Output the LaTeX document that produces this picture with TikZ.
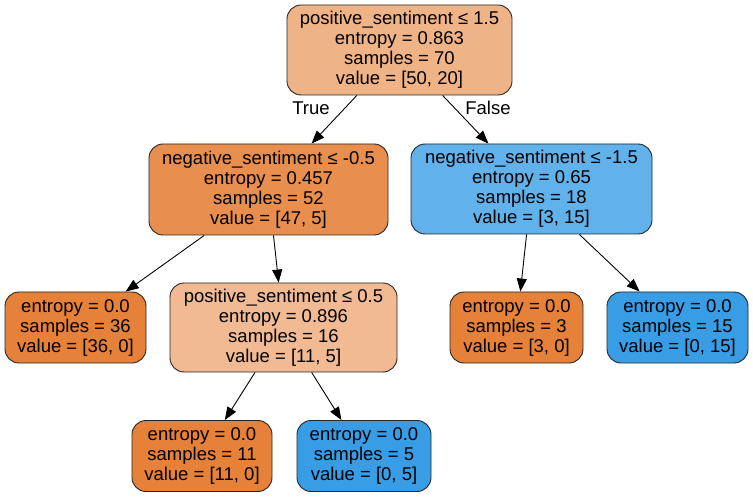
\documentclass[tikz,border=0pt]{standalone}
\usepackage{fontspec}
\setmainfont{Liberation Sans}
\usetikzlibrary{arrows.meta}

% Colores de las clases
\definecolor{raiz}{RGB}{239,179,136}
\definecolor{naranja}{RGB}{232,142,78}
\definecolor{naranjaclaro}{RGB}{241,186,147}
\definecolor{azulclaro}{RGB}{97,177,234}
\definecolor{hojanaranja}{RGB}{229,129,57}
\definecolor{hojaazul}{RGB}{57,157,229}

\begin{document}
\begin{tikzpicture}[x=1pt,y=-1pt,
	nodo/.style={draw=black!85, line width=0.9pt, rounded corners=14pt, align=center,
		font=\fontsize{18.5}{20}\selectfont, inner sep=0pt},
	hoja/.style={nodo, minimum height=71pt},
	flecha/.style={line width=0.9pt, -{Triangle[length=13pt,width=10pt]}}]
			
			\useasboundingbox (0,0) rectangle (753,497);
			
			% Nodo raiz
			\node[nodo, fill=raiz, minimum width=225pt, minimum height=90pt] (raiz) at (399.5,50)
				{positive\_sentiment ≤ 1.5\\entropy = 0.863\\samples = 70\\value = [50, 20]};
			
			% Segundo nivel
			\node[nodo, fill=naranja, minimum width=239pt, minimum height=91pt] (izq) at (268.5,189.5)
				{negative\_sentiment ≤ -0.5\\entropy = 0.457\\samples = 52\\value = [47, 5]};
			\node[nodo, fill=azulclaro, minimum width=241pt, minimum height=90pt] (der) at (531.5,189)
				{negative\_sentiment ≤ -1.5\\entropy = 0.65\\samples = 18\\value = [3, 15]};
			
			% Tercer nivel
			\node[hoja, fill=hojanaranja, minimum width=141pt] (h36) at (75.5,327.5)
				{entropy = 0.0\\samples = 36\\value = [36, 0]};
			\node[nodo, fill=naranjaclaro, minimum width=227pt, minimum height=89pt] (pos) at (283.5,327.5)
				{positive\_sentiment ≤ 0.5\\entropy = 0.896\\samples = 16\\value = [11, 5]};
			\node[hoja, fill=hojanaranja, minimum width=133pt] (h3) at (516.5,327.5)
				{entropy = 0.0\\samples = 3\\value = [3, 0]};
			\node[hoja, fill=hojaazul, minimum width=141pt] (h15) at (677.5,327.5)
				{entropy = 0.0\\samples = 15\\value = [0, 15]};
			
			% Cuarto nivel
			\node[hoja, fill=hojanaranja, minimum width=140pt] (h11) at (202,456)
				{entropy = 0.0\\samples = 11\\value = [11, 0]};
			\node[hoja, fill=hojaazul, minimum width=134pt] (h5) at (364,456)
				{entropy = 0.0\\samples = 5\\value = [0, 5]};
			
			% Aristas
			\draw[flecha] (raiz) -- (izq);
			\draw[flecha] (raiz) -- (der);
			\draw[flecha] (izq) -- (h36);
			\draw[flecha] (izq) -- (pos);
			\draw[flecha] (der) -- (h3);
			\draw[flecha] (der) -- (h15);
			\draw[flecha] (pos) -- (h11);
			\draw[flecha] (pos) -- (h5);
			
			% Etiquetas
			\node[font=\fontsize{18.5}{20}\selectfont] (cierto) at (311,108) {True};
			\node[font=\fontsize{18.5}{20}\selectfont] (falso) at (488,108) {False};
			
		\end{tikzpicture}
\end{document}
